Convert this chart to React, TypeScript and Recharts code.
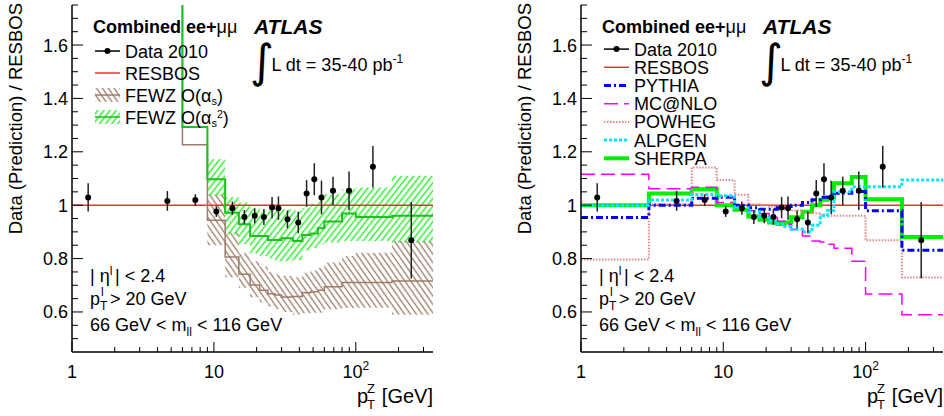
import React from "react";
import {
  ComposedChart,
  Line,
  Area,
  Scatter,
  ErrorBar,
  XAxis,
  YAxis,
  Legend,
  Label,
} from "recharts";

const FONT = "'Liberation Sans', Arial, Helvetica, sans-serif";

// pT bin edges [GeV] (first bin 0-3 drawn from 1)
const EDGES = [1, 3, 6, 9, 12, 15, 18, 21, 24, 27, 30, 36, 42, 48, 54, 60, 80, 100, 180, 350];

// data 2010 / RESBOS
const DATA_PT = [1.3, 4.7, 7.4, 10.4, 13.5, 16.4, 19.4, 22.5, 25.7, 28.5, 33, 39.3, 45, 51, 57.3, 69.1, 89.6, 132, 246];
const DATA_RATIO = [1.029, 1.016, 1.019, 0.976, 0.989, 0.956, 0.96, 0.956, 0.991, 0.989, 0.947, 0.935, 1.044, 1.097, 1.029, 1.054, 1.054, 1.144, 0.869];
const DATA_ERR = [0.053, 0.037, 0.022, 0.02, 0.025, 0.026, 0.028, 0.03, 0.04, 0.044, 0.033, 0.04, 0.05, 0.06, 0.063, 0.053, 0.072, 0.078, 0.143];

const RESBOS = [1, 1, 1, 1, 1, 1, 1, 1, 1, 1, 1, 1, 1, 1, 1, 1, 1, 1, 1];

// left panel: FEWZ
const FEWZ1 = [null, 1.9, 1.226, 0.944, 0.806, 0.741, 0.701, 0.681, 0.668, 0.664, 0.656, 0.658, 0.672, 0.676, 0.681, 0.694, 0.71, 0.71, 0.716];
const FEWZ1_LO = [null, null, null, 0.85, 0.73, 0.69, 0.655, 0.635, 0.62, 0.61, 0.6, 0.59, 0.595, 0.597, 0.597, 0.61, 0.615, 0.616, 0.59];
const FEWZ1_HI = [null, null, null, 1.04, 0.9, 0.82, 0.79, 0.77, 0.75, 0.74, 0.735, 0.73, 0.747, 0.755, 0.766, 0.785, 0.81, 0.822, 0.866];
const FEWZ2 = [null, 1.9, 1.293, 1.097, 0.972, 0.929, 0.885, 0.885, 0.87, 0.87, 0.876, 0.866, 0.888, 0.894, 0.914, 0.939, 0.969, 0.956, 0.96];
const FEWZ2_LO = [null, null, null, 1.035, 0.89, 0.855, 0.82, 0.81, 0.8, 0.79, 0.79, 0.795, 0.83, 0.84, 0.854, 0.86, 0.866, 0.866, 0.86];
const FEWZ2_HI = [null, null, null, 1.172, 1.03, 1.01, 0.99, 0.98, 0.98, 0.98, 0.985, 0.98, 0.99, 1.005, 1.023, 1.041, 1.06, 1.066, 1.11];

// right panel: generators
const PYTHIA = [0.954, 1.0, 1.026, 1.03, 1.0, 0.99, 0.985, 0.985, 0.99, 0.995, 1.0, 1.01, 1.02, 1.03, 1.035, 1.045, 1.051, 0.979, 0.831];
const MCNLO = [1.116, 1.062, 1.067, 1.01, 1.0, 0.979, 0.969, 0.954, 0.94, 0.929, 0.909, 0.885, 0.866, 0.862, 0.854, 0.839, 0.79, 0.667, 0.59];
const POWHEG = [0.797, 1.004, 1.141, 1.094, 1.039, 1.004, 1.0, 0.995, 0.99, 0.985, 0.98, 0.975, 0.97, 0.965, 0.96, 0.96, 0.96, 0.869, 0.729];
const ALPGEN = [1.0, 1.019, 1.04, 1.035, 0.99, 0.975, 0.955, 0.94, 0.93, 0.92, 0.91, 0.9, 0.925, 0.96, 0.98, 1.05, 1.069, 1.069, 1.094];
const SHERPA = [1.0, 1.044, 1.06, 1.0, 0.983, 0.958, 0.945, 0.935, 0.93, 0.935, 0.955, 0.975, 1.0, 1.02, 1.029, 1.082, 1.106, 1.022, 0.881];

const X_TICKS = [1, 2, 3, 4, 5, 6, 7, 8, 9, 10, 20, 30, 40, 50, 60, 70, 80, 90, 100, 200, 300];
const X_MAJOR = [1, 10, 100];
const Y_TICKS = [0.5, 0.55, 0.6, 0.65, 0.7, 0.75, 0.8, 0.85, 0.9, 0.95, 1, 1.05, 1.1, 1.15, 1.2, 1.25, 1.3, 1.35, 1.4, 1.45, 1.5, 1.55, 1.6, 1.65, 1.7, 1.75];
const Y_MAJOR = [0.6, 0.8, 1, 1.2, 1.4, 1.6];

function steps(vals: (number | null)[]) {
  const rows: { x: number; v: number | null }[] = [];
  vals.forEach((v, i) => {
    if (v !== null) rows.push({ x: EDGES[i], v });
  });
  const last = vals.length - 1;
  rows.push({ x: EDGES[last + 1], v: vals[last] });
  return rows;
}

function band(lo: (number | null)[], hi: (number | null)[]) {
  const rows: { x: number; band: number[] }[] = [];
  lo.forEach((l, i) => {
    if (l !== null && hi[i] !== null) rows.push({ x: EDGES[i], band: [l, hi[i] as number] });
  });
  const last = lo.length - 1;
  rows.push({ x: EDGES[last + 1], band: [lo[last] as number, hi[last] as number] });
  return rows;
}

const dataRows = DATA_PT.map((x, i) => ({ x, v: DATA_RATIO[i], err: DATA_ERR[i] }));

const isMajorY = (v: number) => Y_MAJOR.some((m) => Math.abs(m - v) < 1e-6);

function BottomTick({ x, y, payload }: any) {
  const v = payload.value;
  const major = X_MAJOR.includes(v);
  return (
    <g>
      <line x1={x} x2={x} y1={y} y2={y - (major ? 10 : 5)} stroke="#000" />
      {major && (
        <text x={x} y={y + 26} textAnchor="middle" fontSize={18} fontFamily={FONT} fill="#000">
          {v === 100 ? (
            <>
              10<tspan dy={-8} fontSize={12}>2</tspan>
            </>
          ) : (
            String(v)
          )}
        </text>
      )}
    </g>
  );
}

function TopTick({ x, y, payload }: any) {
  const major = X_MAJOR.includes(payload.value);
  return <line x1={x} x2={x} y1={y} y2={y + (major ? 10 : 5)} stroke="#000" />;
}

function LeftTick({ x, y, payload }: any) {
  const v = payload.value;
  const major = isMajorY(v);
  return (
    <g>
      <line x1={x} x2={x + (major ? 11 : 6)} y1={y} y2={y} stroke="#000" />
      {major && (
        <text x={x - 4} y={y + 6.5} textAnchor="end" fontSize={18} fontFamily={FONT} fill="#000">
          {String(v)}
        </text>
      )}
    </g>
  );
}

function RightTick({ x, y, payload }: any) {
  const major = isMajorY(payload.value);
  return <line x1={x} x2={x - (major ? 11 : 6)} y1={y} y2={y} stroke="#000" />;
}

function XTitle(props: any) {
  const vb = props.viewBox || {};
  const xr = vb.x + vb.width;
  const yb = vb.y + 51;
  return (
    <g fontFamily={FONT} fill="#000">
      <text x={xr - 76} y={yb} fontSize={20}>p</text>
      <text x={xr - 66} y={yb + 6} fontSize={13}>T</text>
      <text x={xr - 66} y={yb - 10} fontSize={13}>Z</text>
      <text x={xr} y={yb} fontSize={20} textAnchor="end">[GeV]</text>
    </g>
  );
}

function YTitle(props: any) {
  const vb = props.viewBox || {};
  const xl = vb.x + vb.width - 50;
  return (
    <text
      transform={`translate(${xl},${vb.y - 2}) rotate(-90)`}
      textAnchor="end"
      fontSize={18.5}
      fontFamily={FONT}
      fill="#000"
    >
      Data (Prediction) / RESBOS
    </text>
  );
}

function HatchDefs() {
  return (
    <defs>
      <pattern id="hatchGreen" patternUnits="userSpaceOnUse" width={4.8} height={10} patternTransform="rotate(38)">
        <line x1={2.4} y1={0} x2={2.4} y2={10} stroke="#22ee22" strokeWidth={1.4} />
      </pattern>
      <pattern id="hatchBrown" patternUnits="userSpaceOnUse" width={4.8} height={10} patternTransform="rotate(-35)">
        <line x1={2.4} y1={0} x2={2.4} y2={10} stroke="#9c7867" strokeWidth={1.3} />
      </pattern>
    </defs>
  );
}

type Entry = { label: React.ReactNode; swatch: (cy: number) => React.ReactNode };

function makeLegend(entries: Entry[], rowH: number) {
  return function LegendBox() {
    return (
      <svg width={220} height={entries.length * rowH + 4} style={{ overflow: "visible" }}>
        {entries.map((e, i) => {
          const cy = rowH / 2 + i * rowH;
          return (
            <g key={i}>
              {e.swatch(cy)}
              <text x={30} y={cy + 6.5} fontSize={18} fontFamily={FONT} fill="#000">
                {e.label}
              </text>
            </g>
          );
        })}
      </svg>
    );
  };
}

const dataSwatch = (cy: number) => (
  <g>
    <line x1={0} x2={25} y1={cy} y2={cy} stroke="#000" strokeWidth={1.5} />
    <circle cx={12.5} cy={cy} r={3} fill="#000" />
  </g>
);
const lineSwatch = (color: string, w: number, dash?: string) => (cy: number) =>
  <line x1={0} x2={25} y1={cy} y2={cy} stroke={color} strokeWidth={w} strokeDasharray={dash} />;
const hatchSwatch = (fill: string, color: string) => (cy: number) => (
  <g>
    <rect x={0} y={cy - 7} width={25} height={14} fill={fill} />
    <line x1={0} x2={25} y1={cy} y2={cy} stroke={color} strokeWidth={1.5} />
  </g>
);

const LEFT_LEGEND = makeLegend(
  [
    { label: "Data 2010", swatch: dataSwatch },
    { label: "RESBOS", swatch: lineSwatch("#ff2a2a", 1.5) },
    {
      label: (
        <>
          FEWZ O(α<tspan dy={3} fontSize={11}>s</tspan>
          <tspan dy={-3}>)</tspan>
        </>
      ),
      swatch: hatchSwatch("url(#hatchBrown)", "#9c7c6c"),
    },
    {
      label: (
        <>
          FEWZ O(α<tspan dy={3} fontSize={11}>s</tspan>
          <tspan dy={-9} fontSize={10.5}>2</tspan>
          <tspan dy={6}>)</tspan>
        </>
      ),
      swatch: hatchSwatch("url(#hatchGreen)", "#1fbf1f"),
    },
  ],
  22
);

const RIGHT_LEGEND = makeLegend(
  [
    { label: "Data 2010", swatch: dataSwatch },
    { label: "RESBOS", swatch: lineSwatch("#ff2a2a", 1.5) },
    { label: "PYTHIA", swatch: lineSwatch("#0000ff", 3, "7 3 2 3") },
    { label: "MC@NLO", swatch: lineSwatch("#ff00ff", 1.5, "14 6") },
    { label: "POWHEG", swatch: lineSwatch("#e08888", 2, "1.5 1.5") },
    { label: "ALPGEN", swatch: lineSwatch("#00e8ff", 3, "3 2") },
    { label: "SHERPA", swatch: lineSwatch("#00ee00", 4) },
  ],
  18.2
);

function Annotations({ left }: { left: number }) {
  const L = left;
  return (
    <svg
      width={472}
      height={416}
      style={{ position: "absolute", left: 0, top: 0, pointerEvents: "none" }}
      fontFamily={FONT}
      fill="#000"
    >
      <text x={L + 21} y={33} fontSize={18}>
        <tspan fontWeight="bold">Combined ee+</tspan>
        <tspan>μμ</tspan>
      </text>
      <text x={L + 182} y={34} fontSize={21} fontWeight="bold" fontStyle="italic">
        ATLAS
      </text>
      <text x={L + 178} y={77} fontSize={46} fontFamily="'DejaVu Sans', sans-serif">
        ∫
      </text>
      <text x={L + 199.5} y={71} fontSize={18}>
        L dt = 35-40 pb<tspan dy={-8} fontSize={12}>-1</tspan>
      </text>
      <text x={L + 18} y={282} fontSize={18}>
        | η<tspan dy={-7} fontSize={12}>l</tspan>
        <tspan x={L + 43} dy={7}>| &lt; 2.4</tspan>
      </text>
      <text x={L + 18} y={305} fontSize={18}>
        p<tspan x={L + 28} dy={5} fontSize={12}>T</tspan>
        <tspan x={L + 29} dy={-14} fontSize={12}>l</tspan>
        <tspan x={L + 38} dy={9}>&gt; 20 GeV</tspan>
      </text>
      <text x={L + 18} y={331} fontSize={18}>
        66 GeV &lt; m<tspan dy={5} fontSize={12}>ll</tspan>
        <tspan dy={-5}> &lt; 116 GeV</tspan>
      </text>
    </svg>
  );
}

function Panel({ side }: { side: "left" | "right" }) {
  const isLeft = side === "left";
  const yWidth = isLeft ? 72 : 109;
  const margin = isLeft ? { top: 5, right: 39, bottom: 0, left: 0 } : { top: 5, right: 1, bottom: 0, left: 0 };
  return (
    <div style={{ position: "absolute", left: isLeft ? 0 : 472, top: 0, width: 472, height: 416 }}>
      <ComposedChart width={472} height={416} margin={margin}>
        <HatchDefs />
        <XAxis
          dataKey="x"
          type="number"
          scale="log"
          domain={[1, 350]}
          allowDataOverflow
          ticks={X_TICKS}
          interval={0}
          tickSize={0}
          tickMargin={0}
          tickLine={false}
          tick={<BottomTick />}
          axisLine={{ stroke: "#000", strokeWidth: 1.5 }}
          height={64}
        >
          <Label content={<XTitle />} />
        </XAxis>
        <XAxis
          xAxisId="top"
          orientation="top"
          type="number"
          scale="log"
          domain={[1, 350]}
          allowDataOverflow
          ticks={X_TICKS}
          interval={0}
          tickSize={0}
          tickMargin={0}
          tickLine={false}
          tick={<TopTick />}
          axisLine={{ stroke: "#000", strokeWidth: 1.5 }}
          height={0}
        />
        <YAxis
          type="number"
          domain={[0.45, 1.75]}
          allowDataOverflow
          ticks={Y_TICKS}
          interval={0}
          tickSize={0}
          tickMargin={0}
          tickLine={false}
          tick={<LeftTick />}
          axisLine={{ stroke: "#000", strokeWidth: 1.5 }}
          width={yWidth}
        >
          <Label content={<YTitle />} />
        </YAxis>
        <YAxis
          yAxisId="right"
          orientation="right"
          type="number"
          domain={[0.45, 1.75]}
          allowDataOverflow
          ticks={Y_TICKS}
          interval={0}
          tickSize={0}
          tickMargin={0}
          tickLine={false}
          tick={<RightTick />}
          axisLine={{ stroke: "#000", strokeWidth: 1.5 }}
          width={0}
        />

        {isLeft && (
          <Area data={band(FEWZ1_LO, FEWZ1_HI)} dataKey="band" type="stepAfter" stroke="none" fill="url(#hatchBrown)" fillOpacity={1} isAnimationActive={false} />
        )}
        {isLeft && (
          <Area data={band(FEWZ2_LO, FEWZ2_HI)} dataKey="band" type="stepAfter" stroke="none" fill="url(#hatchGreen)" fillOpacity={1} isAnimationActive={false} />
        )}
        <Line data={steps(RESBOS)} dataKey="v" type="stepAfter" stroke="#ff2a2a" strokeWidth={1.5} dot={false} isAnimationActive={false} />
        {isLeft && (
          <Line data={steps(FEWZ1)} dataKey="v" type="stepAfter" stroke="#9c7c6c" strokeWidth={1.5} dot={false} isAnimationActive={false} />
        )}
        {isLeft && (
          <Line data={steps(FEWZ2)} dataKey="v" type="stepAfter" stroke="#1fbf1f" strokeWidth={2} dot={false} isAnimationActive={false} />
        )}
        {!isLeft && (
          <Line data={steps(SHERPA)} dataKey="v" type="stepAfter" stroke="#00ee00" strokeWidth={4} dot={false} isAnimationActive={false} />
        )}
        {!isLeft && (
          <Line data={steps(MCNLO)} dataKey="v" type="stepAfter" stroke="#ff00ff" strokeWidth={1.5} strokeDasharray="14 6" dot={false} isAnimationActive={false} />
        )}
        {!isLeft && (
          <Line data={steps(POWHEG)} dataKey="v" type="stepAfter" stroke="#e08888" strokeWidth={2} strokeDasharray="1.5 1.5" dot={false} isAnimationActive={false} />
        )}
        {!isLeft && (
          <Line data={steps(PYTHIA)} dataKey="v" type="stepAfter" stroke="#0000ff" strokeWidth={3} strokeDasharray="7 3 2 3" dot={false} isAnimationActive={false} />
        )}
        {!isLeft && (
          <Line data={steps(ALPGEN)} dataKey="v" type="stepAfter" stroke="#00e8ff" strokeWidth={3} strokeDasharray="3 2" dot={false} isAnimationActive={false} />
        )}
        <Scatter
          data={dataRows}
          dataKey="v"
          isAnimationActive={false}
          shape={(p: any) => <circle cx={p.cx} cy={p.cy} r={3} fill="#000" />}
        >
          <ErrorBar dataKey="err" direction="y" width={0} stroke="#222" strokeWidth={1.5} />
        </Scatter>
        <Legend
          content={isLeft ? LEFT_LEGEND : RIGHT_LEGEND}
          layout="horizontal"
          verticalAlign="middle"
          align="center"
          wrapperStyle={{ left: yWidth + 23, top: 40, width: 220 }}
        />
      </ComposedChart>
      <Annotations left={yWidth} />
    </div>
  );
}

export default function App() {
  return (
    <div style={{ position: "absolute", left: 0, top: 0, width: 944, height: 416, background: "#fff" }}>
      <Panel side="left" />
      <Panel side="right" />
    </div>
  );
}
